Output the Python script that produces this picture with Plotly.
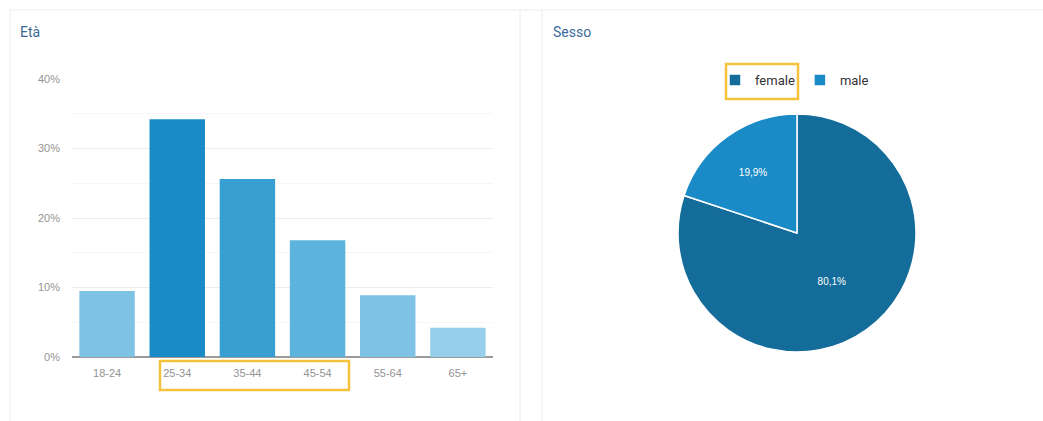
import plotly.graph_objects as go

W, H = 1043, 421

# Data
age_groups = ["18-24", "25-34", "35-44", "45-54", "55-64", "65+"]
age_share = [0.095, 0.342, 0.256, 0.168, 0.089, 0.042]
age_colors = ["#7ec3e5", "#1a8bc6", "#379fd1", "#5cb3db", "#7ec3e5", "#95cfec"]

gender_labels = ["female", "male"]
gender_share = [80.1, 19.9]
gender_text = ["80,1%", "19,9%"]
gender_colors = ["#146c9a", "#1a8bc6"]

y_ticks = [0, 0.1, 0.2, 0.3, 0.4]
y_tick_text = ["0%", "10%", "20%", "30%", "40%"]


def px(x):
    return x / W


def py(y):
    return 1 - y / H


fig = go.Figure()

fig.add_trace(go.Bar(
    x=age_groups, y=age_share,
    marker=dict(color=age_colors, line=dict(width=0)),
    xaxis="x", yaxis="y", showlegend=False, hoverinfo="x+y",
))

R = 119
fig.add_trace(go.Pie(
    labels=gender_labels, values=gender_share,
    text=gender_text, textinfo="text",
    marker=dict(colors=gender_colors, line=dict(color="white", width=1.5)),
    sort=False, direction="clockwise", rotation=0,
    textposition="inside", insidetextorientation="horizontal",
    textfont=dict(color="white", size=10, family="Liberation Sans"),
    domain=dict(x=[px(797 - R), px(797 + R)], y=[py(233 + R), py(233 - R)]),
    showlegend=True,
))

tick_font = dict(family="Liberation Sans", size=11, color="#949494")

fig.update_layout(
    width=W, height=H,
    margin=dict(l=0, r=0, t=0, b=0, pad=0, autoexpand=False),
    paper_bgcolor="white", plot_bgcolor="white",
    bargap=0.21,
    xaxis=dict(
        domain=[px(72), px(493)], anchor="y",
        showgrid=False, showline=False, zeroline=False, automargin=False,
        tickfont=tick_font, ticks="", ticklabelstandoff=8, fixedrange=True,
    ),
    yaxis=dict(
        domain=[py(357), py(79)], anchor="x", automargin=False,
        range=[0, 0.4], tickvals=y_ticks, ticktext=y_tick_text,
        showgrid=True, gridcolor="#ececec", gridwidth=1,
        minor=dict(dtick=0.05, tick0=0, showgrid=True, gridcolor="#f6f6f6", gridwidth=1),
        zeroline=True, zerolinecolor="#9a9a9a", zerolinewidth=2,
        showline=False, tickfont=tick_font, ticks="", ticklabelstandoff=11,
    ),
    legend=dict(
        orientation="h", x=px(715), xanchor="left", y=py(80), yanchor="middle",
        font=dict(family="Roboto", size=13, color="#333333"),
        itemwidth=30, tracegroupgap=0, bgcolor="rgba(0,0,0,0)",
    ),
    font=dict(family="Roboto"),
)

# Card borders
border = dict(color="#ececec", width=1)
shapes = [
    dict(type="line", xref="paper", yref="paper", x0=px(10), x1=1, y0=py(10), y1=py(10), line=border),
    dict(type="line", xref="paper", yref="paper", x0=px(10), x1=px(10), y0=py(10), y1=0, line=border),
    dict(type="line", xref="paper", yref="paper", x0=px(520), x1=px(520), y0=py(10), y1=0, line=border),
    dict(type="line", xref="paper", yref="paper", x0=px(542), x1=px(542), y0=py(10), y1=0, line=border),
    # Highlight boxes
    dict(type="rect", xref="paper", yref="paper", x0=px(160), x1=px(349), y0=py(390), y1=py(361),
         line=dict(color="#f5c33b", width=2.5)),
    dict(type="rect", xref="paper", yref="paper", x0=px(726), x1=px(798), y0=py(99), y1=py(64),
         line=dict(color="#f5c33b", width=2.5)),
]
fig.update_layout(shapes=shapes)

title_font = dict(family="Roboto", size=14, color="#3b6a9a")
fig.add_annotation(text="Età", xref="paper", yref="paper", x=px(18), y=py(32),
                   xanchor="left", yanchor="middle", showarrow=False, font=title_font)
fig.add_annotation(text="Sesso", xref="paper", yref="paper", x=px(551), y=py(32),
                   xanchor="left", yanchor="middle", showarrow=False, font=title_font)

fig.write_html("out.html", config={"displayModeBar": False},
               post_script="document.body.style.margin='0';document.body.style.overflow='hidden';")
